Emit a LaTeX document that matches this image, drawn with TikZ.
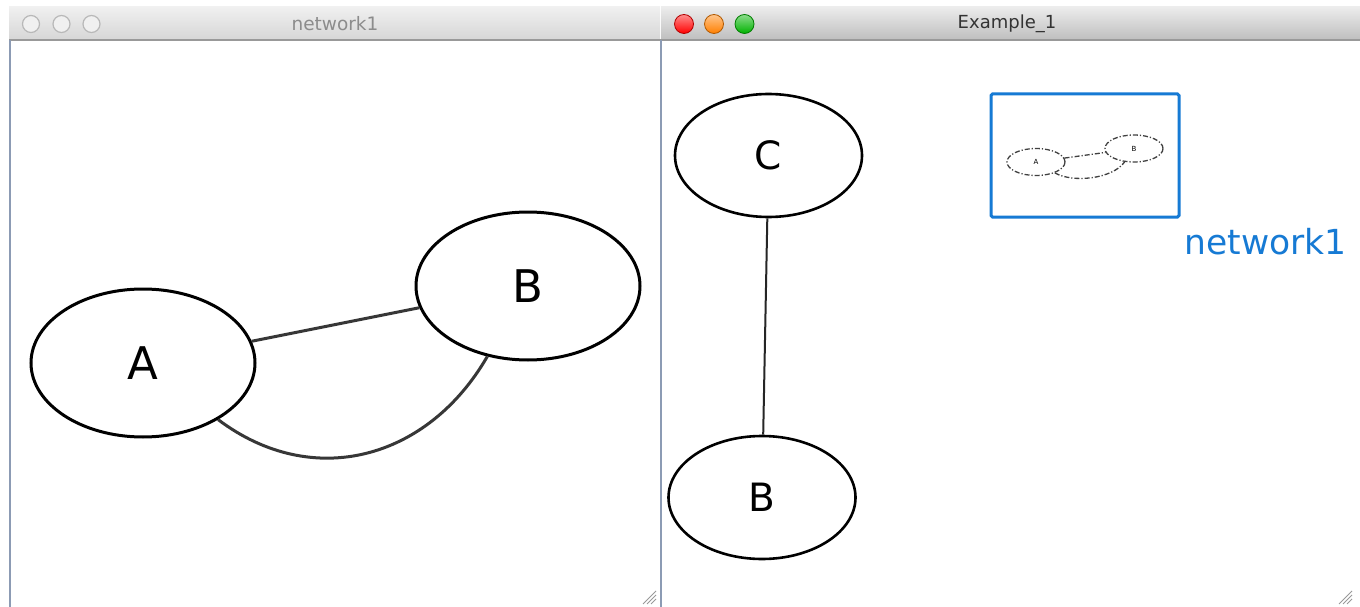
\documentclass[tikz,border=0pt]{standalone}
\usepackage{fontspec}
\setmainfont{DejaVu Sans}
\usetikzlibrary{shapes.geometric}
\definecolor{edgegray}{RGB}{55,55,55}
\definecolor{barlight}{RGB}{240,240,240}
\definecolor{bardark}{RGB}{214,214,214}
\definecolor{actlight}{RGB}{236,236,236}
\definecolor{actdark}{RGB}{190,190,190}
\definecolor{winline}{RGB}{140,155,180}
\definecolor{thumbblue}{RGB}{22,122,212}

\begin{document}
\begin{tikzpicture}[x=1pt,y=-1pt]
    \pgfmathsetmacro{\width}{1360}
    \pgfmathsetmacro{\height}{607}
    \pgfmathsetmacro{\bartop}{7}
    \pgfmathsetmacro{\barbot}{40}
    \tikzset{vbig/.style={draw,ellipse,line width=3pt,minimum width=224pt,minimum height=148pt,inner sep=0pt,font=\fontsize{45}{45}\selectfont}}
    \tikzset{vmid/.style={draw,ellipse,line width=2.6pt,minimum width=187pt,minimum height=123pt,inner sep=0pt,font=\fontsize{39}{39}\selectfont}}
    \tikzset{vmini/.style={draw=black!75,ellipse,dash pattern=on 5pt off 2pt on 1.2pt off 2pt,line width=1.3pt,minimum width=58pt,minimum height=27pt,inner sep=0pt,font=\fontsize{7}{7}\selectfont}}
    \tikzset{ebig/.style={draw=edgegray,line width=3pt}}
    \tikzset{emid/.style={draw=black!85,line width=2pt}}
    \tikzset{emini/.style={draw=black!75,dash pattern=on 5pt off 2pt on 1.2pt off 2pt,line width=1.3pt}}
    \tikzset{btnoff/.style={circle,draw=black!28,fill=barlight,line width=1.2pt,minimum size=17pt,inner sep=0pt}}
    \tikzset{btnon/.style={circle,draw=#1!70!black,top color=#1!45!white,bottom color=#1,line width=0.8pt,minimum size=19pt,inner sep=0pt}}
    \tikzset{grip/.style={draw=black!40,line width=1pt}}
    \useasboundingbox (0,0) rectangle (\width,\height);
    \fill[white] (0,0) rectangle (\width,\height);
    \shade[top color=barlight,bottom color=bardark] (9,\bartop) rectangle (660,\barbot);
    \shade[top color=actlight,bottom color=actdark] (661,\bartop) rectangle (\width,\barbot);
    \draw[black!40,line width=1.5pt] (9,\barbot) -- (\width,\barbot);
    \draw[winline,line width=2pt] (10,\barbot) -- (10,\height);
    \draw[winline,line width=2pt] (660.5,\barbot) -- (660.5,\height);
    \node[btnoff] (c1) at (31,24) {};
    \node[btnoff] (c2) at (61.5,24) {};
    \node[btnoff] (c3) at (91.5,24) {};
    \node[text=black!45,font=\fontsize{18.5}{18.5}\selectfont] (t1) at (335,24) {network1};
    \node[btnon=red] (r1) at (684,24) {};
    \node[btnon=orange] (r2) at (714,24) {};
    \node[btnon=green!70!black] (r3) at (744.5,24) {};
    \node[text=black!80,font=\fontsize{18}{18}\selectfont] (t2) at (1007,24) {Example\_1};
    \node[vbig] (A) at (143,363) {A};
    \node[vbig] (B) at (528,286) {B};
    \draw[ebig] (A) -- (B);
    \draw[ebig] (A) to[out=-37,in=-120,looseness=1.1] (B);
    \node[vmid] (C) at (768.5,155.5) {C};
    \node[vmid] (B2) at (762,497.5) {B};
    \draw[emid] (C) -- (B2);
    \draw[thumbblue,line width=3pt,rounded corners=1.5pt] (991,94) rectangle (1179,217);
    \node[vmini] (ta) at (1036,162) {A};
    \node[vmini] (tb) at (1134,148.5) {B};
    \draw[emini] (ta) -- (tb);
    \draw[emini] (ta) to[out=-30,in=-125,looseness=0.75] (tb);
    \node[text=thumbblue,anchor=base east,font=\fontsize{34.5}{34.5}\selectfont] (lbl) at (1350,254) {network1};
    \foreach \d in {5,9,13} {
        \draw[grip] (656-\d,604) -- (656,604-\d);
        \draw[grip] (1352-\d,604) -- (1352,604-\d);
    }
\end{tikzpicture}
\end{document}
